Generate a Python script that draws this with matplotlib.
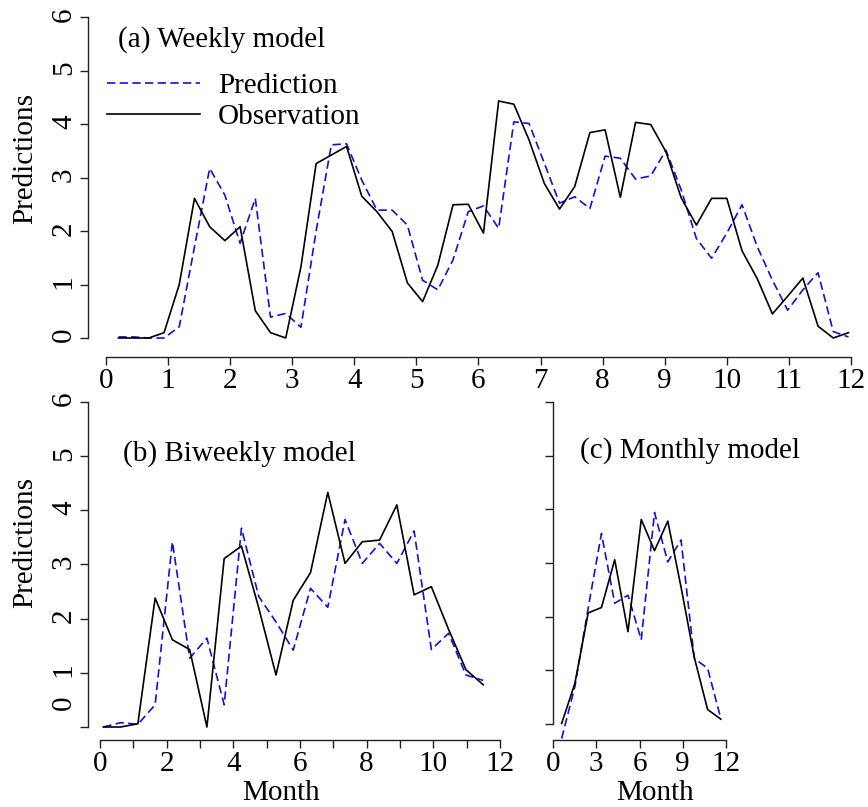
# Prediction vs observation for weekly / biweekly / monthly models
import numpy as np
import matplotlib
matplotlib.use('Agg')
import matplotlib.pyplot as plt

plt.rcParams['font.family'] = ['Liberation Serif', 'DejaVu Serif']
plt.rcParams['font.size'] = 21

# ---- data ----
# weekly model, 49 weeks
week = np.arange(49)
month_a = 0.2 + week * 0.245
obs_a = [0.0, 0.0, 0.0, 0.1, 1.0, 2.61, 2.08, 1.82, 2.08, 0.51, 0.1, 0.0, 1.33,
         3.26, 3.42, 3.58, 2.65, 2.36, 1.99, 1.03, 0.68, 1.36, 2.49, 2.50, 1.96,
         4.43, 4.37, 3.70, 2.89, 2.41, 2.83, 3.84, 3.89, 2.63, 4.03, 3.99, 3.48,
         2.62, 2.11, 2.61, 2.61, 1.63, 1.11, 0.45, 0.78, 1.12, 0.22, 0.0, 0.1]
pred_a = [0.02, 0.02, 0.0, 0.0, 0.21, 1.7, 3.17, 2.67, 1.77, 2.61, 0.39, 0.46, 0.2,
          2.0, 3.61, 3.63, 2.95, 2.39, 2.39, 2.11, 1.08, 0.90, 1.46, 2.36, 2.47,
          2.05, 4.04, 4.01, 3.27, 2.52, 2.64, 2.42, 3.40, 3.36, 2.97, 3.03, 3.51,
          2.77, 1.86, 1.49, 1.96, 2.49, 1.71, 1.08, 0.52, 0.90, 1.22, 0.12, 0.02]

# biweekly model, 23 periods
period = np.arange(23)
month_b = 0.1 + period * 0.518
obs_b = [0.0, 0.0, 0.06, 2.38, 1.61, 1.43, 0.0, 3.11, 3.34, 2.2, 0.96, 2.34,
         2.85, 4.33, 3.02, 3.42, 3.45, 4.10, 2.44, 2.59, 1.8, 1.06, 0.78]
pred_b = [0.0, 0.08, 0.05, 0.41, 3.42, 1.27, 1.64, 0.41, 3.67, 2.41, 1.94, 1.42,
          2.56, 2.21, 3.83, 3.02, 3.39, 3.02, 3.62, 1.43, 1.73, 0.96, 0.86]

# monthly model, 13 periods
mon = np.arange(13)
month_c = 0.6 + mon * 0.92
obs_c = [0.01, 0.76, 2.07, 2.17, 3.06, 1.72, 3.81, 3.23, 3.78, 2.55, 1.24, 0.27, 0.09]
pred_c = [-0.27, 0.70, 2.16, 3.55, 2.25, 2.40, 1.57, 3.94, 3.02, 3.43, 1.22, 1.04, 0.10]

yticks = [0, 1, 2, 3, 4, 5, 6]
xticks_a = list(range(13))
xticks_b = [0, 2, 4, 6, 8, 10, 12]
xticks_c = [0, 3, 6, 9, 12]

W, H = 868, 807
fig = plt.figure(figsize=(W / 100, H / 100), dpi=100)


def axes_at(x0, xppu, y0, yppu, xlim, ylim):
    # x0/y0: pixel of data 0, xppu/yppu: pixels per unit
    left = x0 + xlim[0] * xppu
    right = x0 + xlim[1] * xppu
    top = y0 - ylim[1] * yppu
    bottom = y0 - ylim[0] * yppu
    ax = fig.add_axes([left / W, 1 - bottom / H, (right - left) / W, (bottom - top) / H])
    ax.set_xlim(xlim)
    ax.set_ylim(ylim)
    return ax


def style(ax, xspine, yspine):
    for s in ['top', 'right']:
        ax.spines[s].set_visible(False)
    ax.spines['left'].set_position(('data', xspine))
    ax.spines['left'].set_bounds(0, 6)
    ax.spines['bottom'].set_position(('data', yspine))
    ax.spines['bottom'].set_bounds(0, 12)
    for s in ['left', 'bottom']:
        ax.spines[s].set_color('#222222')
        ax.spines[s].set_linewidth(1.0)
    ax.tick_params(which='both', direction='out', length=6, width=1.0, color='#222222')
    ax.tick_params(axis='y', labelrotation=90, pad=2)
    ax.tick_params(axis='x', pad=2)
    ax.set_yticks(yticks)


def px_to_axes(ax, px, py):
    return ax.transAxes.inverted().transform(fig.dpi_scale_trans.transform((px / 100, (H - py) / 100)))


dash = (0, (5, 2.6))

# ---- (a) weekly ----
ax1 = axes_at(106, 62.08, 338, 53.5, (-0.4, 12.15), (-0.42, 6.08))
style(ax1, -0.29, -0.355)
l1, = ax1.plot(month_a, pred_a, color='#1010e0', lw=1.2, linestyle=dash, clip_on=False)
l2, = ax1.plot(month_a, obs_a, color='black', lw=1.2, clip_on=False)
ax1.set_xticks(xticks_a)
ax1.text(0.19, 5.57, '(a) Weekly model', ha='left', va='center')
ax1.set_ylabel('Predictions', va='center')
ax1.yaxis.set_label_coords(*px_to_axes(ax1, 25, 158))
ax1.legend([l1, l2], ['Prediction', 'Observation'], loc='upper left',
           bbox_to_anchor=(107 / W, 1 - 73 / H), bbox_transform=fig.transFigure,
           frameon=False, borderpad=0, borderaxespad=0, handlelength=3.2,
           handletextpad=0.6, labelspacing=0.15)

# ---- (b) biweekly ----
ax2 = axes_at(100, 33.33, 727, 54.17, (-0.45, 12.2), (-0.3, 6.05))
style(ax2, -0.36, -0.24)
ax2.plot(month_b, pred_b, color='#1010e0', lw=1.2, linestyle=dash, clip_on=False)
ax2.plot(month_b, obs_b, color='black', lw=1.2, clip_on=False)
ax2.set_xticks(xticks_b)
ax2.set_xticks(xticks_a, minor=True)
ax2.set_yticklabels([''] + [str(v) for v in yticks[1:]])
ax2.annotate('0', xy=(-0.36, 0.44), xytext=(-8, 0), textcoords='offset points',
             rotation=90, ha='right', va='center')
ax2.text(0.69, 5.04, '(b) Biweekly model', ha='left', va='center')
ax2.set_ylabel('Predictions', va='center')
ax2.yaxis.set_label_coords(*px_to_axes(ax2, 25, 542))
ax2.set_xlabel('Month', va='baseline')
ax2.xaxis.set_label_coords(*px_to_axes(ax2, 281, 800))

# ---- (c) monthly ----
ax3 = axes_at(553, 14.42, 724, 53.67, (-0.3, 12.3), (-0.34, 6.05))
style(ax3, 0.0, -0.30)
ax3.plot(month_c, pred_c, color='#1010e0', lw=1.2, linestyle=dash, clip_on=False)
ax3.plot(month_c, obs_c, color='black', lw=1.2, clip_on=False)
ax3.set_xticks(xticks_c)
ax3.set_yticklabels([])
ax3.text(1.87, 5.1, '(c) Monthly model', ha='left', va='center')
ax3.set_xlabel('Month', va='baseline')
ax3.xaxis.set_label_coords(*px_to_axes(ax3, 655, 800))

fig.savefig('out.png', dpi=100)
